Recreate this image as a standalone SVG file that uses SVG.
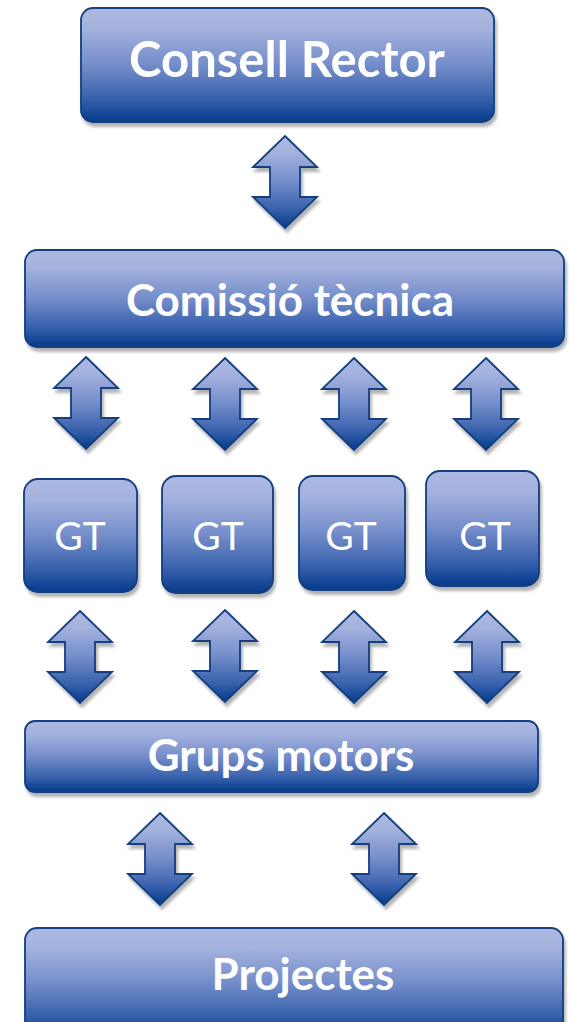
<svg xmlns="http://www.w3.org/2000/svg" xmlns:xlink="http://www.w3.org/1999/xlink" width="569" height="1022" viewBox="0 0 569 1022">
<style>
.box{fill:url(#g);stroke:#123d7e;stroke-width:1.8;filter:url(#sh)}
.arr{fill:url(#g);stroke:#123d7e;stroke-width:1.8;stroke-linejoin:miter;filter:url(#sh)}
.t{fill:#fff;font-family:Lato,"Open Sans","Liberation Sans",sans-serif;font-weight:bold;text-anchor:middle}
.gt{fill:#fff;font-family:Lato,"Open Sans","Liberation Sans",sans-serif;font-weight:normal;font-size:39px;text-anchor:middle}
</style>
<defs>
<linearGradient id="g" x1="0" y1="0" x2="0" y2="1">
<stop offset="0" stop-color="#acb9e2"/>
<stop offset="0.18" stop-color="#a4b2de"/>
<stop offset="0.5" stop-color="#748dca"/>
<stop offset="0.8" stop-color="#3660ab"/>
<stop offset="1" stop-color="#04398b"/>
</linearGradient>
<filter id="sh" x="-20%" y="-20%" width="140%" height="140%">
<feGaussianBlur in="SourceAlpha" stdDeviation="1.5"/>
<feOffset dx="2" dy="4" result="o"/>
<feFlood flood-color="#000" flood-opacity="0.3"/>
<feComposite in2="o" operator="in"/>
<feMerge><feMergeNode/><feMergeNode in="SourceGraphic"/></feMerge>
</filter>
<path id="arrow" class="arr" d="M0,0 L32,31 L15,31 L15,61 L32,61 L0,92 L-32,61 L-15,61 L-15,31 L-32,31 Z"/>
</defs>

<g id="connectors">
<use xlink:href="#arrow" x="285" y="136"/>
<use xlink:href="#arrow" x="86" y="357"/>
<use xlink:href="#arrow" x="225" y="358"/>
<use xlink:href="#arrow" x="354" y="358"/>
<use xlink:href="#arrow" x="486" y="358"/>
<use xlink:href="#arrow" x="80" y="611"/>
<use xlink:href="#arrow" x="225" y="610"/>
<use xlink:href="#arrow" x="354" y="611"/>
<use xlink:href="#arrow" x="487" y="611"/>
<use xlink:href="#arrow" x="160" y="813"/>
<use xlink:href="#arrow" x="384" y="813"/>
</g>

<g id="consell-rector">
<rect class="box" x="81" y="8" width="413" height="114" rx="12"/>
<text class="t" x="287" y="77" font-size="49">Consell Rector</text>
</g>

<g id="comissio-tecnica">
<rect class="box" x="25" y="250" width="539" height="97" rx="12"/>
<text class="t" x="290" y="316" font-size="44">Comissió tècnica</text>
</g>

<g id="gt1">
<rect class="box" x="24" y="479" width="113" height="113" rx="14"/>
<text class="gt" x="80" y="550">GT</text>
</g>
<g id="gt2">
<rect class="box" x="162" y="476" width="111" height="117" rx="14"/>
<text class="gt" x="218" y="550">GT</text>
</g>
<g id="gt3">
<rect class="box" x="299" y="476" width="106" height="114" rx="14"/>
<text class="gt" x="351" y="550">GT</text>
</g>
<g id="gt4">
<rect class="box" x="426" y="471" width="113" height="115" rx="14"/>
<text class="gt" x="485" y="550">GT</text>
</g>

<g id="grups-motors">
<rect class="box" x="25" y="721" width="513" height="71" rx="10"/>
<text class="t" x="281" y="771" font-size="44">Grups motors</text>
</g>

<g id="projectes">
<rect class="box" x="25" y="928" width="538" height="110" rx="12"/>
<text class="t" x="303" y="990" font-size="44">Projectes</text>
</g>
</svg>
